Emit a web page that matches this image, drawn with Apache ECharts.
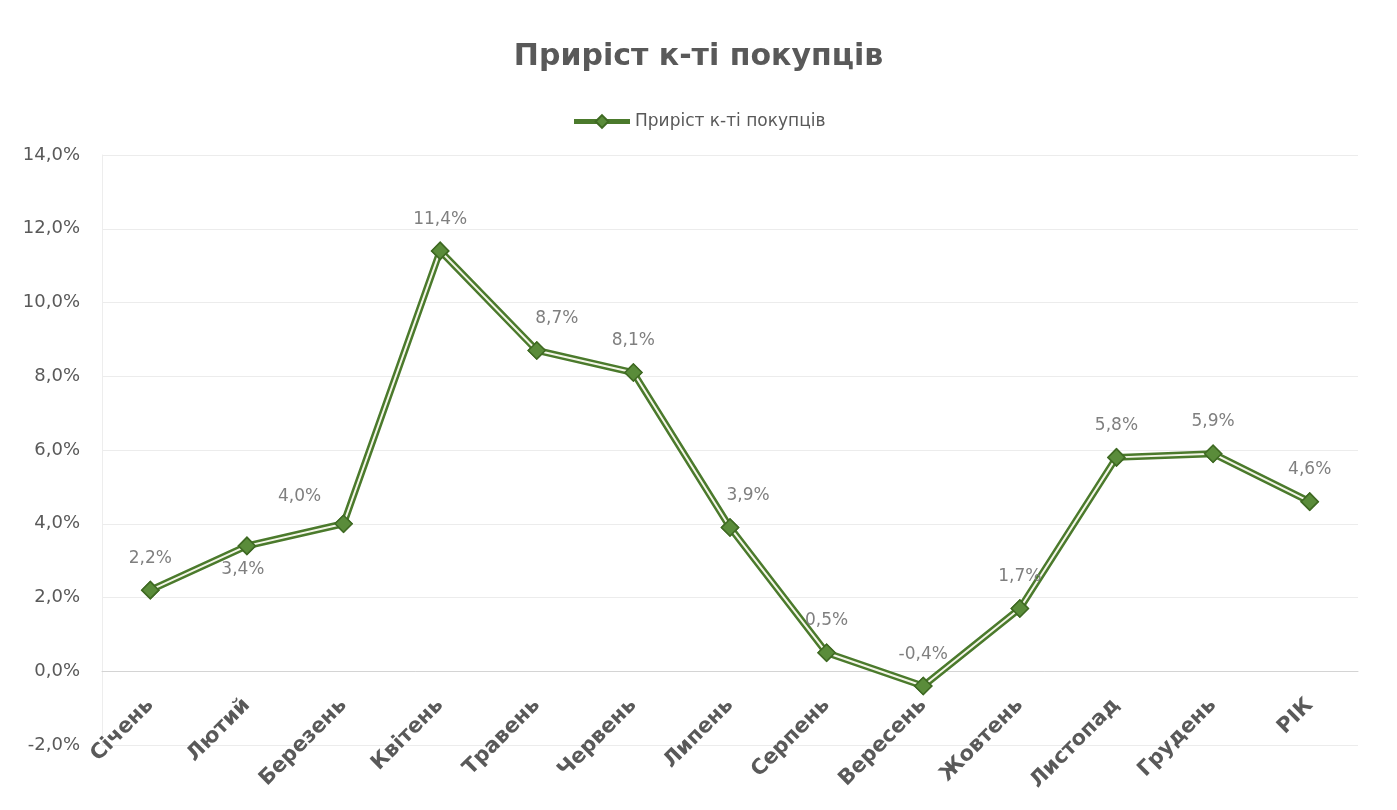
<!DOCTYPE html>
<html>
<head>
<meta charset="utf-8">
<script src="https://cdn.jsdelivr.net/npm/echarts@6/dist/echarts.min.js"></script>
<style>
  html, body { margin: 0; padding: 0; background: #fff; }
  #chart { width: 1397px; height: 810px; }
</style>
</head>
<body>
<div id="chart"></div>
<script>
const chartTitle = 'Приріст к-ті покупців'
const seriesName = 'Приріст к-ті покупців'
const months = ['Січень', 'Лютий', 'Березень', 'Квітень', 'Травень', 'Червень', 'Липень',
  'Серпень', 'Вересень', 'Жовтень', 'Листопад', 'Грудень', 'РІК']
const growth = [2.2, 3.4, 4.0, 11.4, 8.7, 8.1, 3.9, 0.5, -0.4, 1.7, 5.8, 5.9, 4.6]
const yTicks = [-2, 0, 2, 4, 6, 8, 10, 12, 14]

function fmtPct(v) {
  return v.toFixed(1).replace('.', ',') + '%'
}

// a few labels were moved by hand in the original
const labelTweaks = {
  'Лютий': { position: 'bottom', offset: [-4, -8] },
  'Березень': { offset: [-44, 5] },
  'Травень': { offset: [20, 0] },
  'Липень': { offset: [18, 0] }
}

const chart = echarts.init(document.getElementById('chart'))
const textFont = 'DejaVu Sans'

const markerData = growth.map(function (v, i) {
  const t = labelTweaks[months[i]]
  return t ? { value: v, label: t } : v
})

chart.setOption({
  backgroundColor: '#ffffff',
  animation: false,
  title: {
    text: chartTitle,
    left: 'center',
    top: 37,
    textStyle: {
      fontFamily: textFont,
      fontSize: 30,
      fontWeight: 'bold',
      color: '#595959'
    }
  },
  legend: {
    data: [seriesName],
    top: 108,
    left: 'center',
    itemWidth: 56,
    itemHeight: 16,
    itemGap: 6,
    lineStyle: { width: 5 },
    textStyle: {
      fontFamily: textFont,
      fontSize: 17,
      color: '#595959'
    }
  },
  grid: {
    left: 102,
    right: 39,
    top: 155,
    bottom: 65,
    outerBoundsMode: 'none'
  },
  xAxis: {
    type: 'category',
    data: months,
    boundaryGap: true,
    axisLine: {
      onZero: true,
      lineStyle: { color: '#d4d4d4', width: 1 }
    },
    axisTick: { show: false },
    axisLabel: {
      rotate: 45,
      margin: -43,
      fontFamily: textFont,
      fontSize: 21,
      fontWeight: 'bold',
      color: '#595959'
    }
  },
  yAxis: {
    type: 'value',
    min: yTicks[0],
    max: yTicks[yTicks.length - 1],
    interval: 2,
    axisLine: { show: true, lineStyle: { color: '#ededed' } },
    axisTick: { show: false },
    axisLabel: {
      margin: 22,
      fontFamily: textFont,
      fontSize: 18,
      color: '#595959',
      formatter: function (v) { return fmtPct(v) }
    },
    splitLine: {
      show: true,
      lineStyle: { color: '#ececec', width: 1 }
    }
  },
  series: [
    {
      name: seriesName,
      type: 'line',
      data: growth,
      z: 2,
      symbol: 'diamond',
      symbolSize: 17,
      lineStyle: { color: '#4b7a2c', width: 7 },
      itemStyle: { color: '#5a8c3a', borderColor: '#3f6a23', borderWidth: 1.5 }
    },
    {
      name: 'inner',
      type: 'line',
      data: markerData,
      z: 3,
      symbol: 'diamond',
      symbolSize: 17,
      lineStyle: { color: '#f4f6e8', width: 2 },
      itemStyle: { color: '#5a8c3a', borderColor: '#3f6a23', borderWidth: 1.5 },
      label: {
        show: true,
        position: 'top',
        distance: 14,
        fontFamily: textFont,
        fontSize: 17,
        color: '#7f7f7f',
        formatter: function (p) { return fmtPct(p.value) }
      }
    }
  ]
})
</script>
</body>
</html>
